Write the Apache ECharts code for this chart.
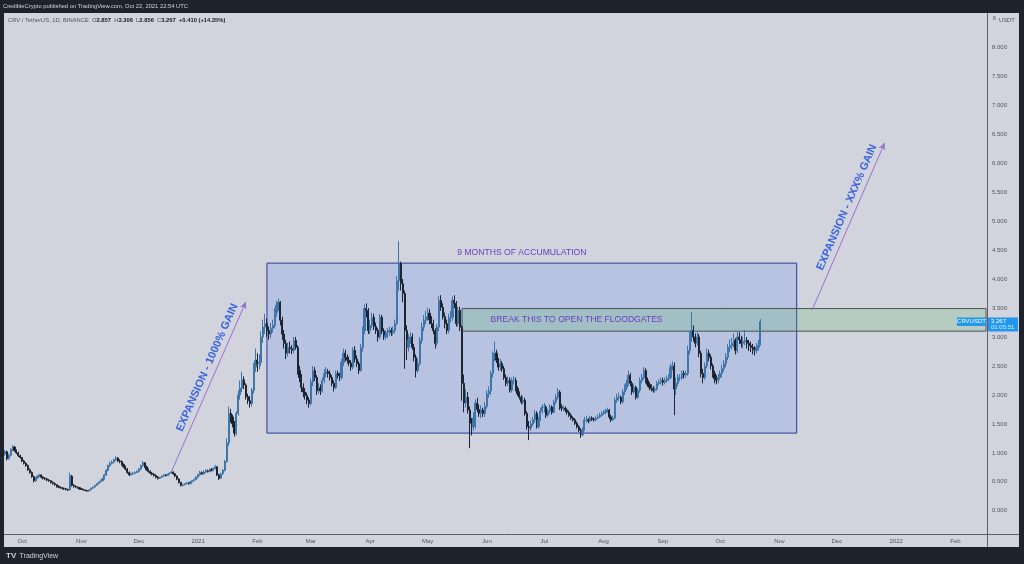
<!DOCTYPE html>
<html><head><meta charset="utf-8">
<script src="https://cdn.jsdelivr.net/npm/echarts@6/dist/echarts.min.js"></script>
<style>html,body{margin:0;padding:0;background:#1e222d;}#c{width:1024px;height:564px;}</style>
</head><body><div id="c"></div>
<script>
// ---- data: CRV / TetherUS daily, 2020-09-22 .. 2021-10-22 ----
const firstDay = [2020, 8, 22];
const dayCount = 514; // category slots incl. empty future space to Feb 2022
const opens = [
 0.98,1.02,0.90,0.96,1.06,1.10,1.04,1.00,0.95,
 0.92,0.86,0.82,0.78,0.71,0.66,0.59,0.52,0.57,0.60,0.62,0.58,0.56,0.55,0.53,0.52,0.49,0.47,0.45,0.42,0.41,0.40,0.39,0.38,0.37,0.36,0.60,0.44,0.42,0.41,0.40,
 0.38,0.37,0.36,0.35,0.34,0.36,0.39,0.41,0.44,0.47,0.50,0.52,0.55,0.62,0.70,0.78,0.82,0.84,0.88,0.91,0.86,0.85,0.80,0.76,0.72,0.66,0.62,0.64,0.65,0.66,
 0.68,0.72,0.78,0.83,0.76,0.71,0.68,0.65,0.63,0.61,0.58,0.56,0.58,0.60,0.62,0.61,0.63,0.65,0.67,0.64,0.60,0.55,0.49,0.44,0.45,0.47,0.48,0.47,0.50,0.52,0.54,
 0.58,0.62,0.66,0.64,0.67,0.69,0.68,0.71,0.70,0.73,0.76,0.62,0.56,0.64,0.70,0.85,1.17,1.68,1.62,1.50,1.34,1.68,2.00,2.12,2.26,2.17,1.97,1.90,1.85,2.08,2.48,
 2.60,2.54,2.56,3.00,3.17,3.23,3.11,3.05,3.15,3.20,3.42,3.55,3.60,3.29,3.05,2.89,2.72,2.82,2.80,2.77,2.94,2.82,2.42,2.30,2.13,2.05,1.99,1.91,
 1.85,2.22,2.42,2.30,2.07,2.12,2.07,2.25,2.37,2.40,2.37,2.30,2.20,2.13,2.37,2.33,2.30,2.56,2.72,2.65,2.60,2.55,2.48,2.77,2.62,2.54,2.42,2.82,3.11,3.49,3.46,
 3.11,3.20,3.34,3.18,3.11,3.00,3.34,3.10,3.00,3.03,3.08,3.11,3.08,3.11,3.23,3.97,4.27,3.92,3.75,3.11,2.82,2.95,3.00,2.82,2.65,2.42,2.54,2.94,3.17,3.29,
 3.35,3.41,3.30,3.23,3.11,2.89,3.17,3.63,3.51,3.35,3.23,3.11,3.34,3.34,3.63,3.58,3.23,3.46,3.17,2.20,1.86,1.96,1.74,1.51,1.45,1.60,1.86,1.75,1.68,1.74,1.68,
 1.80,2.02,2.07,2.37,2.65,2.72,2.60,2.48,2.54,2.45,2.30,2.20,2.25,2.08,2.25,2.25,2.11,2.02,1.96,1.88,1.91,1.68,1.45,1.43,1.50,1.57,1.68,1.45,1.57,1.72,
 1.79,1.79,1.65,1.72,1.79,1.70,1.88,1.96,2.05,1.79,1.77,1.77,1.74,1.70,1.65,1.60,1.57,1.51,1.45,1.39,1.31,1.40,1.57,1.57,1.55,1.60,1.58,1.57,1.60,1.62,1.65,
 1.68,1.70,1.72,1.74,1.62,1.57,1.60,1.91,1.96,1.96,1.88,2.05,2.13,2.20,2.34,2.20,2.05,2.13,1.96,2.08,2.25,2.30,2.42,2.25,2.18,2.13,2.11,2.08,2.10,2.20,2.22,
 2.25,2.22,2.25,2.28,2.30,2.48,2.50,2.10,2.20,2.30,2.30,2.37,2.35,2.37,2.77,3.00,3.11,3.00,2.89,3.00,2.72,2.37,2.30,2.50,2.72,2.65,2.50,2.37,2.28,2.25,
 2.30,2.37,2.45,2.54,2.65,2.82,2.85,2.89,2.94,2.77,3.00,2.95,2.89,2.92,2.94,2.89,2.85,2.82,2.78,2.77,2.82,2.857
];
const closes = [
 1.02,0.90,0.96,1.06,1.10,1.04,1.00,0.95,0.92,
 0.86,0.82,0.78,0.71,0.66,0.59,0.52,0.57,0.60,0.62,0.58,0.56,0.55,0.53,0.52,0.49,0.47,0.45,0.42,0.41,0.40,0.39,0.38,0.37,0.36,0.60,0.44,0.42,0.41,0.40,0.38,
 0.37,0.36,0.35,0.34,0.36,0.39,0.41,0.44,0.47,0.50,0.52,0.55,0.62,0.70,0.78,0.82,0.84,0.88,0.91,0.86,0.85,0.80,0.76,0.72,0.66,0.62,0.64,0.65,0.66,0.68,
 0.72,0.78,0.83,0.76,0.71,0.68,0.65,0.63,0.61,0.58,0.56,0.58,0.60,0.62,0.61,0.63,0.65,0.67,0.64,0.60,0.55,0.49,0.44,0.45,0.47,0.48,0.47,0.50,0.52,0.54,0.58,
 0.62,0.66,0.64,0.67,0.69,0.68,0.71,0.70,0.73,0.76,0.62,0.56,0.64,0.70,0.85,1.17,1.68,1.62,1.50,1.34,1.68,2.00,2.12,2.26,2.17,1.97,1.90,1.85,2.08,2.48,2.60,
 2.54,2.56,3.00,3.17,3.23,3.11,3.05,3.15,3.20,3.42,3.55,3.60,3.29,3.05,2.89,2.72,2.82,2.80,2.77,2.94,2.82,2.42,2.30,2.13,2.05,1.99,1.91,1.85,
 2.22,2.42,2.30,2.07,2.12,2.07,2.25,2.37,2.40,2.37,2.30,2.20,2.13,2.37,2.33,2.30,2.56,2.72,2.65,2.60,2.55,2.48,2.77,2.62,2.54,2.42,2.82,3.11,3.49,3.46,3.11,
 3.20,3.34,3.18,3.11,3.00,3.34,3.10,3.00,3.03,3.08,3.11,3.08,3.11,3.23,3.97,4.27,3.92,3.75,3.11,2.82,2.95,3.00,2.82,2.65,2.42,2.54,2.94,3.17,3.29,3.35,
 3.41,3.30,3.23,3.11,2.89,3.17,3.63,3.51,3.35,3.23,3.11,3.34,3.34,3.63,3.58,3.23,3.46,3.17,2.20,1.86,1.96,1.74,1.51,1.45,1.60,1.86,1.75,1.68,1.74,1.68,1.80,
 2.02,2.07,2.37,2.65,2.72,2.60,2.48,2.54,2.45,2.30,2.20,2.25,2.08,2.25,2.25,2.11,2.02,1.96,1.88,1.91,1.68,1.45,1.43,1.50,1.57,1.68,1.45,1.57,1.72,1.79,
 1.79,1.65,1.72,1.79,1.70,1.88,1.96,2.05,1.79,1.77,1.77,1.74,1.70,1.65,1.60,1.57,1.51,1.45,1.39,1.31,1.40,1.57,1.57,1.55,1.60,1.58,1.57,1.60,1.62,1.65,1.68,
 1.70,1.72,1.74,1.62,1.57,1.60,1.91,1.96,1.96,1.88,2.05,2.13,2.20,2.34,2.20,2.05,2.13,1.96,2.08,2.25,2.30,2.42,2.25,2.18,2.13,2.11,2.08,2.10,2.20,2.22,2.25,
 2.22,2.25,2.28,2.30,2.48,2.50,2.10,2.20,2.30,2.30,2.37,2.35,2.37,2.77,3.00,3.11,3.00,2.89,3.00,2.72,2.37,2.30,2.50,2.72,2.65,2.50,2.37,2.28,2.25,2.30,
 2.37,2.45,2.54,2.65,2.82,2.85,2.89,2.94,2.77,3.00,2.95,2.89,2.92,2.94,2.89,2.85,2.82,2.78,2.77,2.82,2.857,3.267
];
const lows = [
 0.95,0.87,0.88,0.94,1.03,1.02,0.98,0.93,0.90,
 0.84,0.80,0.76,0.69,0.64,0.57,0.49,0.50,0.55,0.58,0.56,0.54,0.53,0.51,0.50,0.47,0.45,0.43,0.40,0.39,0.38,0.37,0.36,0.35,0.34,0.35,0.42,0.40,0.39,0.38,0.36,
 0.36,0.35,0.34,0.33,0.33,0.35,0.38,0.40,0.43,0.46,0.49,0.51,0.54,0.60,0.68,0.75,0.80,0.82,0.86,0.84,0.82,0.78,0.74,0.70,0.64,0.60,0.61,0.62,0.63,0.65,
 0.66,0.70,0.76,0.74,0.69,0.66,0.63,0.61,0.59,0.56,0.54,0.55,0.57,0.59,0.59,0.60,0.62,0.64,0.62,0.58,0.53,0.47,0.42,0.42,0.44,0.46,0.45,0.46,0.49,0.51,0.53,
 0.56,0.60,0.62,0.62,0.65,0.66,0.66,0.68,0.68,0.71,0.60,0.53,0.55,0.62,0.68,0.83,1.12,1.52,1.44,1.28,1.30,1.64,1.92,2.05,2.10,1.92,1.84,1.78,1.80,2.02,2.40,
 2.40,2.44,2.50,2.90,3.05,3.00,2.95,2.98,3.08,3.15,3.35,3.45,3.20,2.95,2.80,2.62,2.66,2.72,2.70,2.72,2.78,2.35,2.22,2.05,1.96,1.92,1.84,1.78,
 1.82,2.15,2.24,2.00,2.02,2.00,2.04,2.20,2.30,2.30,2.25,2.15,2.06,2.10,2.28,2.24,2.26,2.50,2.58,2.54,2.50,2.42,2.44,2.56,2.48,2.36,2.40,2.75,3.05,3.34,3.05,
 3.05,3.15,3.12,3.05,2.92,2.96,3.05,2.95,2.95,2.98,3.02,3.02,3.03,3.06,3.20,3.80,3.80,3.60,2.45,2.60,2.75,2.88,2.78,2.58,2.30,2.38,2.50,2.88,3.10,3.22,
 3.28,3.22,3.15,3.05,2.80,2.85,3.10,3.45,3.30,3.15,3.05,3.06,3.25,3.28,3.50,3.18,3.18,3.10,1.90,1.70,1.78,1.68,1.08,1.30,1.38,1.42,1.70,1.62,1.60,1.62,1.62,
 1.76,1.95,2.00,2.30,2.58,2.55,2.42,2.42,2.40,2.26,2.15,2.15,2.04,2.04,2.18,2.06,1.98,1.92,1.84,1.84,1.64,1.40,1.22,1.38,1.46,1.52,1.42,1.42,1.55,1.68,
 1.70,1.60,1.62,1.68,1.66,1.68,1.84,1.92,1.74,1.72,1.72,1.70,1.66,1.62,1.57,1.54,1.48,1.42,1.36,1.26,1.29,1.38,1.52,1.51,1.53,1.55,1.54,1.55,1.58,1.60,1.63,
 1.65,1.67,1.69,1.58,1.53,1.55,1.58,1.86,1.90,1.84,1.85,2.00,2.08,2.16,2.15,2.00,2.02,1.92,1.93,2.04,2.20,2.26,2.20,2.14,2.08,2.06,2.04,2.04,2.07,2.16,2.18,
 2.16,2.18,2.21,2.24,2.27,2.42,1.65,2.00,2.15,2.24,2.26,2.28,2.30,2.33,2.70,2.92,2.92,2.82,2.85,2.65,2.30,2.20,2.26,2.46,2.58,2.44,2.30,2.20,2.18,2.20,
 2.26,2.30,2.40,2.48,2.60,2.74,2.78,2.82,2.70,2.72,2.88,2.82,2.80,2.86,2.80,2.76,2.74,2.70,2.68,2.72,2.76,2.856
];
const highs = [
 1.05,1.04,0.99,1.08,1.13,1.12,1.06,1.02,0.97,
 0.93,0.88,0.84,0.80,0.73,0.68,0.61,0.58,0.61,0.64,0.63,0.60,0.58,0.57,0.55,0.53,0.51,0.49,0.46,0.44,0.42,0.41,0.40,0.39,0.38,0.66,0.62,0.46,0.44,0.42,0.41,
 0.39,0.38,0.37,0.36,0.37,0.40,0.42,0.45,0.48,0.51,0.54,0.57,0.64,0.72,0.80,0.85,0.87,0.90,0.94,0.93,0.89,0.87,0.82,0.78,0.74,0.68,0.66,0.67,0.68,0.70,
 0.74,0.80,0.86,0.84,0.78,0.73,0.70,0.67,0.65,0.63,0.60,0.59,0.61,0.63,0.63,0.64,0.66,0.69,0.68,0.65,0.61,0.56,0.50,0.47,0.48,0.50,0.49,0.51,0.53,0.56,0.60,
 0.64,0.69,0.68,0.70,0.72,0.71,0.73,0.74,0.75,0.79,0.77,0.64,0.66,0.72,0.88,1.25,1.80,1.76,1.66,1.55,1.72,2.08,2.25,2.40,2.32,2.20,2.02,1.98,2.12,2.55,2.80,
 2.72,2.70,3.10,3.30,3.40,3.32,3.18,3.24,3.30,3.50,3.62,3.66,3.62,3.35,3.12,2.95,2.90,2.92,2.86,3.00,3.00,2.86,2.50,2.36,2.20,2.12,2.04,1.96,
 2.28,2.50,2.48,2.34,2.20,2.18,2.30,2.44,2.48,2.45,2.42,2.34,2.25,2.42,2.42,2.38,2.62,2.80,2.78,2.70,2.66,2.60,2.82,2.84,2.68,2.58,2.88,3.18,3.56,3.58,3.50,
 3.30,3.42,3.40,3.25,3.15,3.40,3.38,3.15,3.12,3.15,3.18,3.16,3.18,3.30,4.05,4.65,4.30,4.00,3.80,3.20,3.05,3.08,3.06,2.88,2.70,2.62,3.00,3.25,3.38,3.45,
 3.50,3.48,3.36,3.30,3.15,3.22,3.70,3.72,3.58,3.42,3.30,3.40,3.45,3.70,3.72,3.62,3.52,3.52,3.20,2.35,2.10,2.05,1.80,1.60,1.70,1.92,1.95,1.84,1.82,1.78,1.88,
 2.08,2.15,2.42,2.75,2.92,2.78,2.64,2.62,2.58,2.50,2.35,2.32,2.30,2.30,2.32,2.30,2.15,2.06,2.00,1.98,1.95,1.72,1.55,1.56,1.62,1.74,1.72,1.62,1.78,1.84,
 1.86,1.82,1.76,1.84,1.82,1.92,2.02,2.12,2.08,1.84,1.82,1.80,1.77,1.73,1.68,1.63,1.60,1.54,1.48,1.42,1.44,1.62,1.64,1.60,1.64,1.63,1.61,1.63,1.66,1.69,1.72,
 1.74,1.76,1.78,1.76,1.66,1.64,1.96,2.02,2.04,1.99,2.10,2.18,2.26,2.42,2.38,2.24,2.18,2.16,2.12,2.30,2.36,2.48,2.46,2.30,2.22,2.18,2.15,2.14,2.24,2.27,2.30,
 2.30,2.30,2.33,2.36,2.54,2.58,2.56,2.30,2.36,2.36,2.42,2.42,2.42,2.85,3.10,3.43,3.20,3.06,3.08,3.05,2.76,2.45,2.56,2.80,2.78,2.70,2.54,2.42,2.34,2.36,
 2.42,2.52,2.60,2.72,2.88,2.96,2.98,3.06,2.98,3.10,3.08,3.02,3.00,3.12,3.00,2.95,2.92,2.88,2.84,2.90,2.95,3.306
];
const priceTicks = [0,0.5,1,1.5,2,2.5,3,3.5,4,4.5,5,5.5,6,6.5,7,7.5,8];
const monthNames = ['Jan','Feb','Mar','Apr','May','Jun','Jul','Aug','Sep','Oct','Nov','Dec'];
const lastPrice = 3.267;
// annotation anchors (day index, price)
const accumBox = [[137, 4.274], [414, 1.341]];
const breakBox = [[239, 3.49], [513, 3.10]];
const arrowLeft = [[87, 0.673], [126, 3.606]];
const arrowRight = [[422, 3.463], [460, 6.349]];
const arrowTexts = ['EXPANSION - 1000% GAIN', 'EXPANSION - XXX% GAIN'];

const FONT = '"Liberation Sans", Arial, sans-serif';
const dates = [];
for (let i = 0; i < dayCount; i++) {
  const d = new Date(Date.UTC(firstDay[0], firstDay[1], firstDay[2] + i));
  dates.push(d.toISOString().slice(0, 10));
}
const candles = closes.map((c, i) => [opens[i], c, lows[i], highs[i]]);

const chart = echarts.init(document.getElementById('c'));
const purple = '#6a3fc1';
const arrowStyle = {color: '#9a6fd0', width: 1, type: 'solid'};
chart.setOption({
  backgroundColor: '#d1d4dc',
  animation: false,
  grid: {left: 4, right: 37, top: 13, bottom: 30},
  xAxis: {
    type: 'category', data: dates, boundaryGap: true,
    axisLine: {show: false}, axisTick: {show: false}, splitLine: {show: false},
    axisLabel: {
      interval: (i, v) => v.slice(8) === '01',
      formatter: v => { const m = +v.slice(5, 7); return m === 1 ? v.slice(0, 4) : monthNames[m - 1]; },
      color: '#50535e', fontSize: 6, margin: 4, fontFamily: FONT
    }
  },
  yAxis: {
    type: 'value', position: 'right', min: -0.4, max: 8.59,
    axisLine: {show: false}, axisTick: {show: false}, splitLine: {show: false},
    axisLabel: {customValues: priceTicks, formatter: v => v.toFixed(3), color: '#50535e', fontSize: 6, margin: 5, fontFamily: FONT}
  },
  series: [{
    type: 'candlestick', data: candles, barWidth: 1.6,
    itemStyle: {color: '#3f76aa', color0: '#141a26', borderColor: '#3f76aa', borderColor0: '#1e2430', borderWidth: 1},
    markArea: {
      silent: true,
      data: [
        [{xAxis: accumBox[0][0], yAxis: accumBox[0][1],
          itemStyle: {color: 'rgba(41,98,255,0.15)', borderColor: '#2c3a96', borderWidth: 1},
          label: {show: true, position: 'top', formatter: '9 MONTHS OF ACCUMULATION', color: purple, fontSize: 8.6, fontFamily: FONT, distance: 6, offset: [-10, 0]}},
         {xAxis: accumBox[1][0], yAxis: accumBox[1][1]}],
        [{xAxis: breakBox[0][0], yAxis: breakBox[0][1],
          itemStyle: {color: 'rgba(76,175,80,0.2)', borderColor: '#4a5558', borderWidth: 1},
          label: {show: true, position: [29, '50%'], align: 'left', verticalAlign: 'middle', formatter: 'BREAK THIS TO OPEN THE FLOODGATES', color: purple, fontSize: 8.6, fontFamily: FONT}},
         {xAxis: breakBox[1][0], yAxis: breakBox[1][1]}]
      ]
    },
    markLine: {
      silent: true, animation: false,
      data: [
        [{coord: arrowLeft[0], symbol: 'none', lineStyle: arrowStyle, label: {show: false}},
         {coord: arrowLeft[1], symbol: 'arrow', symbolSize: [5, 7]}],
        [{coord: arrowRight[0], symbol: 'none', lineStyle: arrowStyle, label: {show: false}},
         {coord: arrowRight[1], symbol: 'arrow', symbolSize: [5, 7]}],
        [{yAxis: lastPrice, symbol: 'none', lineStyle: {color: '#6a9fd8', type: [1, 2], width: 1}, label: {show: false}},
         {yAxis: lastPrice, symbol: 'none'}]
      ]
    }
  }]
});

function arrowLabel(seg, text) {
  const p1 = chart.convertToPixel({seriesIndex: 0}, seg[0]);
  const p2 = chart.convertToPixel({seriesIndex: 0}, seg[1]);
  const dx = p2[0] - p1[0], dy = p2[1] - p1[1];
  const len = Math.hypot(dx, dy);
  const ux = dx / len, uy = dy / len;
  const nx = uy, ny = -ux;
  const cx = (p1[0] + p2[0]) / 2 + ux * 17 + nx * 9;
  const cy = (p1[1] + p2[1]) / 2 + uy * 17 + ny * 9;
  return {type: 'text', x: cx, y: cy, rotation: Math.atan2(-dy, dx), z: 60,
    style: {text: text, fill: '#3b63e0', fontSize: 11, fontWeight: 'bold', fontFamily: FONT, align: 'center', verticalAlign: 'middle'}};
}

const py = chart.convertToPixel({yAxisIndex: 0}, lastPrice);
chart.setOption({
  graphic: [
    {type: 'rect', shape: {x: 0, y: 0, width: 1024, height: 13}, style: {fill: '#1e222d'}, z: 100},
    {type: 'rect', shape: {x: 0, y: 547, width: 1024, height: 17}, style: {fill: '#1e222d'}, z: 100},
    {type: 'rect', shape: {x: 0, y: 0, width: 4, height: 564}, style: {fill: '#1e222d'}, z: 100},
    {type: 'rect', shape: {x: 1019, y: 0, width: 5, height: 564}, style: {fill: '#1e222d'}, z: 100},
    {type: 'line', shape: {x1: 987.5, y1: 13, x2: 987.5, y2: 547}, style: {stroke: '#5d606b', lineWidth: 1}, z: 90},
    {type: 'line', shape: {x1: 4, y1: 534.5, x2: 1019, y2: 534.5}, style: {stroke: '#5d606b', lineWidth: 1}, z: 90},
    arrowLabel(arrowLeft, arrowTexts[0]),
    arrowLabel(arrowRight, arrowTexts[1]),
    {type: 'text', x: 3, y: 6.5, style: {text: 'CredibleCrypto published on TradingView.com, Oct 22, 2021 22:54 UTC', fill: '#d1d4dc', fontSize: 5.8, fontFamily: FONT, verticalAlign: 'middle'}, z: 101},
    {type: 'text', x: 8, y: 20, z: 101, style: {
      text: '{a|CRV / TetherUS, 1D, BINANCE}  {a|O}{b|2.857}  {a|H}{b|3.306}  {a|L}{b|2.856}  {a|C}{b|3.267}  {b|+0.410 (+14.35%)}',
      verticalAlign: 'middle', fontFamily: FONT, fontSize: 5.8,
      rich: {a: {fill: '#50535e', fontSize: 5.8, fontFamily: FONT}, b: {fill: '#131722', fontSize: 5.8, fontFamily: FONT, fontWeight: 'bold'}}
    }},
    {type: 'text', x: 993, y: 19, z: 101, style: {text: '8', fill: '#50535e', fontSize: 5, fontFamily: FONT, verticalAlign: 'middle'}},
    {type: 'text', x: 999, y: 20, z: 101, style: {text: 'USDT', fill: '#50535e', fontSize: 5.8, fontFamily: FONT, verticalAlign: 'middle'}},
    {type: 'rect', z: 95, shape: {x: 957, y: py - 4, width: 29, height: 8.5}, style: {fill: '#2196f3'}},
    {type: 'text', z: 96, x: 971.5, y: py, style: {text: 'CRVUSDT', fill: '#ffffff', fontSize: 6, fontFamily: FONT, align: 'center', verticalAlign: 'middle'}},
    {type: 'rect', z: 95, shape: {x: 988, y: py - 4, width: 30, height: 14}, style: {fill: '#2196f3'}},
    {type: 'text', z: 96, x: 991, y: py, style: {text: '3.267', fill: '#ffffff', fontSize: 6, fontFamily: FONT, verticalAlign: 'middle'}},
    {type: 'text', z: 96, x: 991, y: py + 6, style: {text: '01:05:51', fill: '#dbe9fb', fontSize: 6, fontFamily: FONT, verticalAlign: 'middle'}},
    {type: 'text', z: 101, x: 6, y: 556, style: {text: '{t|TV} {n|TradingView}', verticalAlign: 'middle',
      rich: {t: {fill: '#d1d4dc', fontSize: 8, fontWeight: 'bold', fontFamily: FONT}, n: {fill: '#d1d4dc', fontSize: 7, fontFamily: FONT}}}}
  ]
});
</script>
</body></html>
